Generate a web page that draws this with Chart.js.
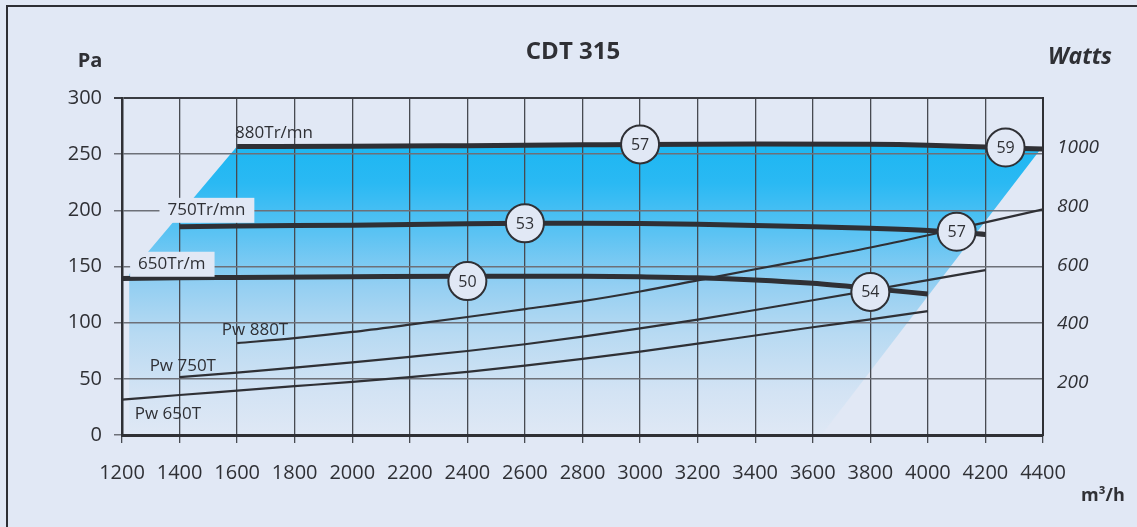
<!DOCTYPE html>
<html>
<head>
<meta charset="utf-8">
<script src="https://cdn.jsdelivr.net/npm/chart.js@4.4.1/dist/chart.umd.min.js"></script>
<style>
  html, body { margin: 0; padding: 0; background: #e1e8f5; }
  #wrap { position: relative; width: 1137px; height: 527px; overflow: hidden; }
  #frame { position: absolute; left: 6px; top: 5px; width: 1200px; height: 600px;
           border-left: 2.5px solid #2d2f35; border-top: 2.5px solid #2d2f35; }
  canvas { position: absolute; left: 0; top: 0; }
</style>
</head>
<body>
<div id="wrap">
  <div id="frame"></div>
  <canvas id="fanChart" width="1137" height="527"></canvas>
</div>
<script>
// axis ticks
const flowTicks = [1200, 1400, 1600, 1800, 2000, 2200, 2400, 2600, 2800, 3000, 3200, 3400, 3600, 3800, 4000, 4200, 4400];
const wattTicks = [200, 400, 600, 800, 1000];

// pressure curves (Pa) per fan speed
const flow880 = [1600, 2000, 2400, 2800, 3000, 3400, 3800, 4000, 4200, 4400];
const pa880 = [256.8, 257, 257.6, 258.3, 258.7, 259, 258.8, 258, 256.3, 254.5];
const flow750 = [1400, 1600, 2000, 2400, 2600, 2800, 3000, 3200, 3400, 3600, 3800, 4000, 4200];
const pa750 = [185.4, 186, 186.8, 188, 188.4, 188.5, 188.2, 187.6, 186.6, 185.4, 184, 182, 178.5];
const flow650 = [1200, 1400, 1600, 2000, 2400, 2800, 3000, 3200, 3400, 3600, 3800, 4000];
const pa650 = [139.4, 140, 140.3, 140.9, 141.4, 141.3, 140.8, 139.9, 138, 135, 130.5, 125.5];

// absorbed power (W)
const flowPw880 = [1600, 1800, 2000, 2200, 2400, 2600, 2800, 3000, 3200, 3400, 3600, 3800, 4000, 4200, 4400];
const watt880 = [334, 351, 372, 397, 423, 450, 477, 510, 548, 586, 622, 660, 702, 746, 790];
const flowPw750 = [1400, 1600, 1800, 2000, 2200, 2400, 2600, 2800, 3000, 3200, 3400, 3600, 3800, 4000, 4200];
const watt750 = [218, 233, 250, 268, 287, 307, 330, 356, 384, 414, 447, 480, 514, 549, 583];
const flowPw650 = [1200, 1400, 1600, 1800, 2000, 2200, 2400, 2600, 2800, 3000, 3200, 3400, 3600, 3800, 4000];
const watt650 = [141, 157, 172, 187, 202, 218, 236, 257, 280, 305, 332, 360, 388, 415, 443];

// operating zone envelope (flow, Pa)
const zoneFlow = [1225, 1225, 1600, 2000, 2400, 2800, 3000, 3400, 3800, 4000, 4200, 4390, 3630];
const zonePa = [0, 143, 257, 257, 257.6, 258.3, 258.7, 259, 258.8, 258, 256.3, 254, 0];

// noise level markers dB(A)
const noiseLabels = ["57", "59", "53", "57", "50", "54"];
const noiseFlow = [3000, 4270, 2600, 4100, 2400, 3800];
const noisePa = [258.7, 256, 188.5, 181, 137, 127.4];

// curve names: text, left flow, Pa, boxed
const curveNames = ["880Tr/mn", "750Tr/mn", "650Tr/m", "Pw 880T", "Pw 750T", "Pw 650T"];
const curveNameFlow = [1593, 1358, 1256, 1547, 1296, 1244];
const curveNamePa = [269, 200, 152, 93.2, 61.1, 18.3];
const curveNameBoxed = [false, true, true, false, false, false];

const ink = "#2f3035";
const bg = "#e1e8f5";
const font = "'Open Sans', 'DejaVu Sans', sans-serif";

function pts(xs, ys) {
    return xs.map((x, i) => ({ x: x, y: ys[i] }));
}

const zonePlugin = {
    id: "zone",
    beforeDraw(chart) {
        const { ctx, scales } = chart;
        const x = scales.x, y = scales.y;
        const g = ctx.createLinearGradient(0, y.getPixelForValue(255), 0, y.getPixelForValue(0));
        g.addColorStop(0, "#1eb7f2");
        g.addColorStop(0.12, "#2ab9f3");
        g.addColorStop(0.3, "#5cc3f3");
        g.addColorStop(0.48, "#94cff2");
        g.addColorStop(0.65, "#b8daf2");
        g.addColorStop(0.85, "#d3e3f4");
        g.addColorStop(1, "#dfe8f5");
        ctx.save();
        ctx.beginPath();
        zoneFlow.forEach((f, i) => {
            const px = x.getPixelForValue(f), py = y.getPixelForValue(zonePa[i]);
            if (i === 0) ctx.moveTo(px, py); else ctx.lineTo(px, py);
        });
        ctx.closePath();
        ctx.fillStyle = g;
        ctx.fill();
        ctx.restore();
    }
};

const textPlugin = {
    id: "texts",
    afterDatasetsDraw(chart) {
        const { ctx, scales } = chart;
        const x = scales.x, y = scales.y;
        ctx.save();
        ctx.fillStyle = ink;
        ctx.textBaseline = "middle";

        // curve names
        ctx.font = "17px " + font;
        ctx.textAlign = "left";
        curveNames.forEach((t, i) => {
            const px = x.getPixelForValue(curveNameFlow[i]);
            const py = y.getPixelForValue(curveNamePa[i]);
            if (curveNameBoxed[i]) {
                const w = ctx.measureText(t).width;
                ctx.fillStyle = bg;
                ctx.fillRect(px - 8, py - 12.5, w + 17, 25);
                ctx.fillStyle = ink;
            }
            ctx.fillText(t, px, py);
        });

        // noise circles
        ctx.textAlign = "center";
        ctx.font = "16px " + font;
        noiseLabels.forEach((t, i) => {
            const px = x.getPixelForValue(noiseFlow[i]);
            const py = y.getPixelForValue(noisePa[i]);
            ctx.beginPath();
            ctx.arc(px, py, 19, 0, Math.PI * 2);
            ctx.fillStyle = bg;
            ctx.fill();
            ctx.lineWidth = 2;
            ctx.strokeStyle = ink;
            ctx.stroke();
            ctx.fillStyle = ink;
            ctx.fillText(t, px, py + 1);
        });

        // title and units
        ctx.font = "bold 24px " + font;
        ctx.fillText("CDT 315", 573, 52);
        ctx.font = "bold 20px " + font;
        ctx.fillText("Pa", 90, 61);
        ctx.font = "italic bold 23px " + font;
        ctx.fillText("Watts", 1080, 57);
        ctx.font = "bold 18px " + font;
        ctx.fillText("m³/h", 1103, 496);
        ctx.restore();
    }
};

function curve(xs, ys, width, axis) {
    return {
        data: pts(xs, ys),
        yAxisID: axis,
        showLine: true,
        borderColor: ink,
        borderWidth: width,
        pointRadius: 0,
        cubicInterpolationMode: "monotone",
        borderCapStyle: "butt",
        fill: false
    };
}

new Chart(document.getElementById("fanChart"), {
    type: "scatter",
    data: {
        datasets: [
            curve(flowPw880, watt880, 2.2, "y2"),
            curve(flowPw750, watt750, 2.2, "y2"),
            curve(flowPw650, watt650, 2.2, "y2"),
            curve(flow880, pa880, 5, "y"),
            curve(flow750, pa750, 5, "y"),
            curve(flow650, pa650, 5, "y")
        ]
    },
    options: {
        responsive: false,
        animation: false,
        layout: { padding: { top: 98, left: 0, right: 0, bottom: 0 } },
        plugins: { legend: { display: false }, tooltip: { enabled: false } },
        scales: {
            x: {
                type: "linear",
                min: 1200,
                max: 4400,
                afterBuildTicks: s => { s.ticks = flowTicks.map(v => ({ value: v })); },
                afterFit: s => { s.height = 92; },
                ticks: {
                    callback: v => String(v),
                    color: ink,
                    font: { family: font, size: 20 },
                    padding: 18,
                    maxRotation: 0,
                    autoSkip: false
                },
                grid: { color: "#474a51", lineWidth: 1.3, tickLength: 8 },
                border: { color: ink, width: 3 }
            },
            y: {
                position: "left",
                min: 0,
                max: 300,
                afterFit: s => { s.width = 122; },
                ticks: {
                    stepSize: 50,
                    color: ink,
                    font: { family: font, size: 20 },
                    padding: 12
                },
                grid: {
                    color: c => c.tick && c.tick.value === 300 ? "#3a3c42" : "#6d7078",
                    lineWidth: c => c.tick && c.tick.value === 300 ? 2 : 1.5,
                    tickLength: 8
                },
                border: { color: ink, width: 2.5 }
            },
            y2: {
                position: "right",
                min: 20.5,
                max: 1170,
                afterBuildTicks: s => { s.ticks = wattTicks.map(v => ({ value: v })); },
                afterFit: s => { s.width = 94; },
                ticks: {
                    callback: v => String(v),
                    color: ink,
                    font: { family: font, size: 19, style: "italic" },
                    padding: 14
                },
                grid: { display: false, drawTicks: false },
                border: { color: ink, width: 2 }
            }
        }
    },
    plugins: [zonePlugin, textPlugin]
});
</script>
</body>
</html>
